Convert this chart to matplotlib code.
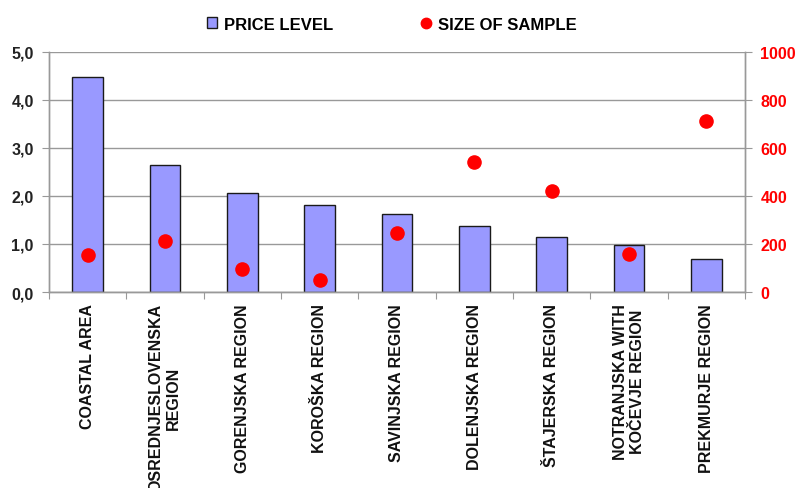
import numpy as np
import matplotlib.pyplot as plt
from matplotlib.lines import Line2D
from matplotlib.patches import Patch
from matplotlib.ticker import FuncFormatter

plt.rcParams['font.family'] = ['Liberation Sans', 'DejaVu Sans']
plt.rcParams['font.weight'] = 'bold'

regions = ["COASTAL AREA", "OSREDNJESLOVENSKA\nREGION", "GORENJSKA REGION",
           "KOROŠKA REGION", "SAVINJSKA REGION", "DOLENJSKA REGION",
           "ŠTAJERSKA REGION", "NOTRANJSKA WITH\nKOČEVJE REGION", "PREKMURJE REGION"]
price_level = [4.48, 2.65, 2.06, 1.81, 1.62, 1.38, 1.15, 0.98, 0.69]
sample_size = [154, 212, 96, 50, 246, 542, 421, 158, 712]

grid_col = "#999999"

fig = plt.figure(figsize=(7.98, 4.89), dpi=100)
ax = fig.add_axes([49 / 798, 196 / 489, 696 / 798, 240 / 489])
ax2 = ax.twinx()

x = np.arange(len(regions))
ax.bar(x, price_level, width=0.4, color="#9999ff", edgecolor="#1a1a1a", linewidth=1.0, zorder=2)
ax2.scatter(x, sample_size, s=90, color="#ff0000", zorder=3, clip_on=False)

ax.set_xlim(-0.5, len(regions) - 0.5)
ax.set_ylim(0, 5)
ax2.set_ylim(0, 1000)
ax.set_yticks(np.arange(0, 5.1, 1))
ax2.set_yticks(np.arange(0, 1001, 200))
ax.yaxis.set_major_formatter(FuncFormatter(lambda v, p: f"{v:.1f}".replace(".", ",")))
ax.yaxis.grid(True, color=grid_col, linewidth=1.0, zorder=0)
ax.set_axisbelow(True)

for a in (ax, ax2):
    a.spines['top'].set_visible(False)
    for s in ('left', 'right', 'bottom'):
        a.spines[s].set_color(grid_col)
        a.spines[s].set_linewidth(1.0)

ax.tick_params(axis='y', length=5, color=grid_col, labelsize=11.5, labelcolor="#222222", pad=6)
ax2.tick_params(axis='y', length=5, color=grid_col, labelsize=11.5, labelcolor="#ff0000", pad=6)
for lab in ax.get_yticklabels() + ax2.get_yticklabels():
    lab.set_fontweight('bold')

# category ticks sit between the bars, names go under each bar
ax.set_xticks(np.arange(-0.5, len(regions), 1.0))
ax.set_xticklabels([])
ax.tick_params(axis='x', length=5, color=grid_col)
ax.set_xticks(x, minor=True)
ax.set_xticklabels(regions, minor=True, rotation=90, ha='center', va='top',
                   multialignment='center', fontsize=11.5, fontweight='bold', color="#111111")
ax.tick_params(axis='x', which='minor', length=0, pad=8)

handles = [Patch(facecolor="#9999ff", edgecolor="#1a1a1a", linewidth=1.0),
           Line2D([], [], marker='o', linestyle='none', color="#ff0000", markersize=7.5)]
fig.legend(handles, ["PRICE LEVEL", "SIZE OF SAMPLE"], loc='center', bbox_to_anchor=(392 / 798, 1 - 25 / 489),
           ncol=2, frameon=False, handlelength=0.6, handleheight=0.6, handletextpad=0.4,
           columnspacing=5.3, prop={'weight': 'bold', 'size': 12})

fig.savefig("out.png", dpi=100)
